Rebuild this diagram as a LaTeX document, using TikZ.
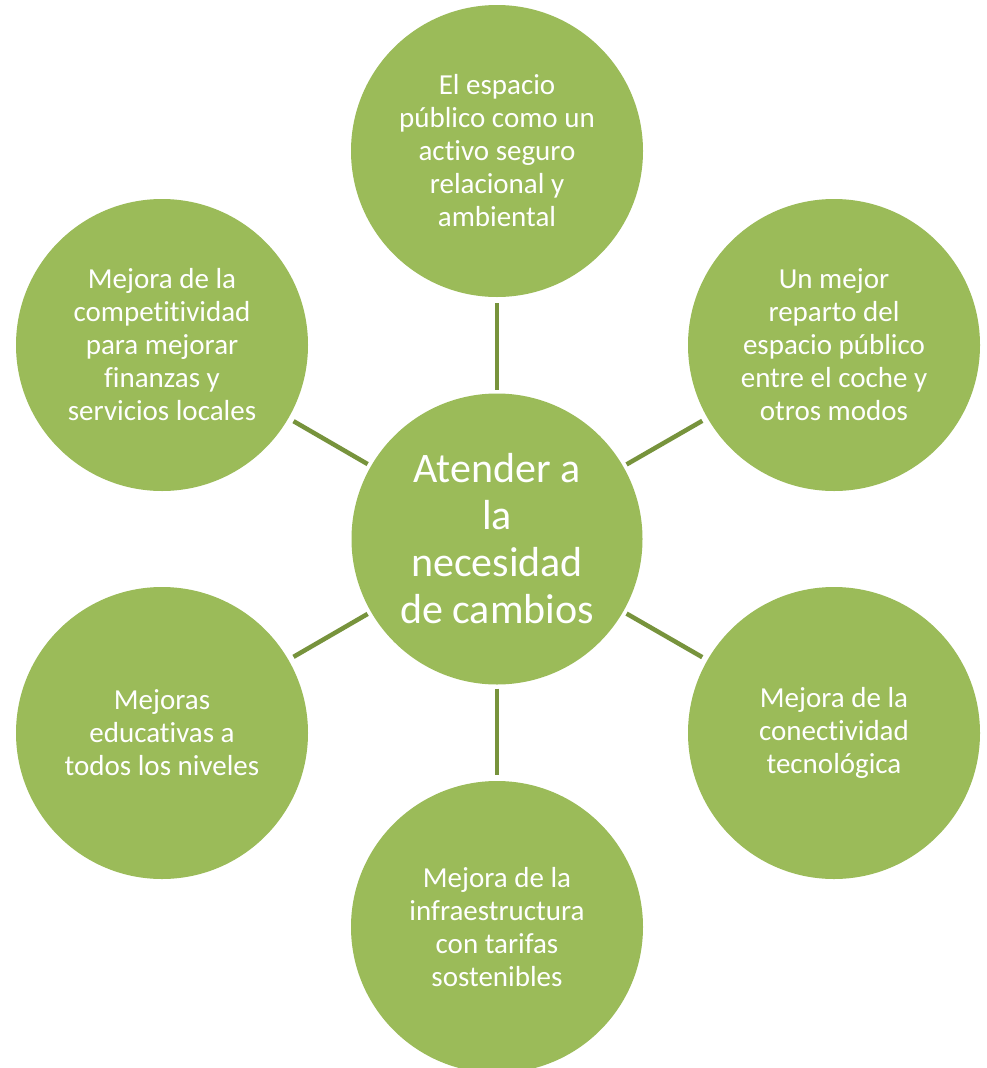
\documentclass[tikz,border=0pt]{standalone}
\usepackage{fontspec}
\setmainfont{Carlito}[Ligatures=CommonOff]
\definecolor{fillg}{HTML}{9BBB59}
\definecolor{lineg}{HTML}{77933C}
\begin{document}
\begin{tikzpicture}[x=1pt,y=-1pt,
  sat/.style={circle,fill=fillg,minimum size=292pt,inner sep=0pt,outer sep=0pt,text=white,align=center,
    font=\fontsize{29}{33}\selectfont},
  hub/.style={circle,fill=fillg,minimum size=291pt,inner sep=0pt,outer sep=0pt,text=white,align=center,
    font=\fontsize{42}{47}\selectfont},
  link/.style={draw=lineg,line width=4.5pt,shorten <=4pt,shorten >=6pt}]
\fill[white] (0,0) rectangle (987,1068);
\useasboundingbox (0,0) rectangle (987,1068);
\node[hub] (c) at (497,539) {Atender a\\la\\necesidad\\de cambios};
\node[sat] (t) at (497,151) {El espacio\\público como un\\activo seguro\\relacional y\\ambiental};
\node[sat] (ur) at (834,345) {Un mejor\\reparto del\\espacio público\\entre el coche y\\otros modos};
\node[sat] (lr) at (834,733) {Mejora de la\\conectividad\\tecnológica};
\node[sat] (b) at (497,927) {Mejora de la\\infraestructura\\con tarifas\\sostenibles};
\node[sat] (ll) at (162,733) {Mejoras\\educativas a\\todos los niveles};
\node[sat] (ul) at (162,345) {Mejora de la\\competitividad\\para mejorar\\finanzas y\\servicios locales};
\foreach \s in {t,ur,lr,b,ll,ul} \draw[link] (c) -- (\s);
\end{tikzpicture}
\end{document}
